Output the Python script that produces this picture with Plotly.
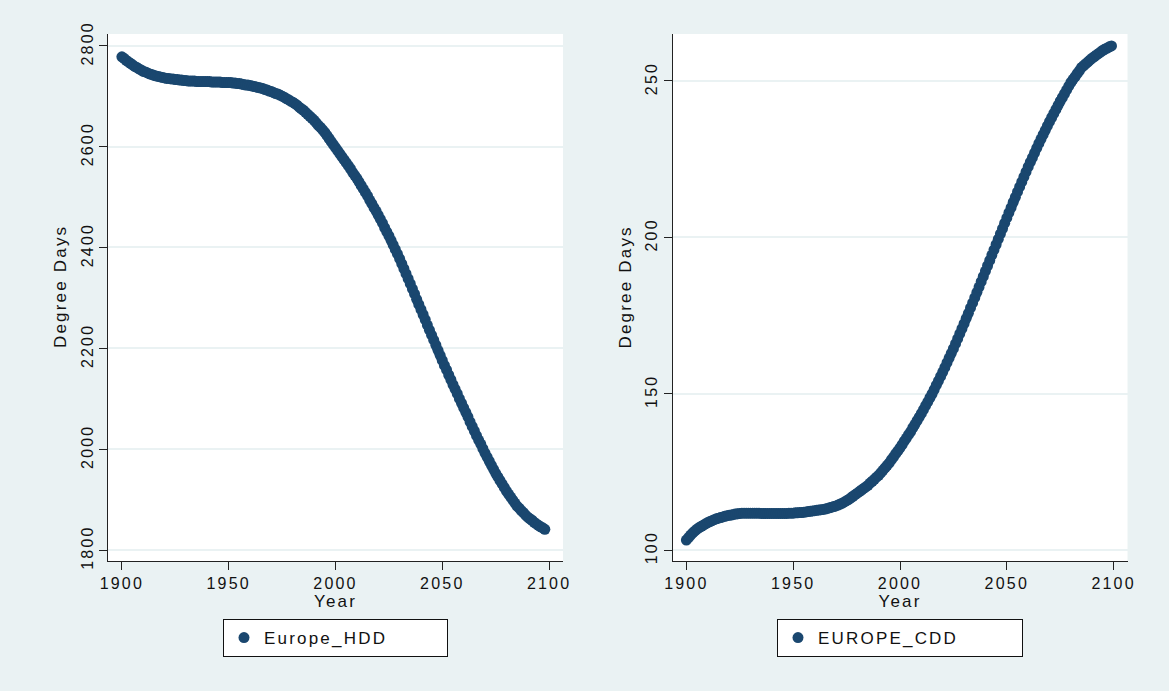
import plotly.graph_objects as go

# ---------------- data ----------------
HDD_YEARS = list(range(1900, 2099))
EUROPE_HDD = [
    2778, 2775, 2771, 2768, 2765, 2762, 2759, 2757, 2754, 2752,
    2749, 2748, 2746, 2744, 2743, 2741, 2740, 2739, 2738, 2737,
    2736, 2735, 2735, 2734, 2734, 2733, 2733, 2732, 2732, 2731,
    2731, 2730, 2730, 2730, 2730, 2729, 2729, 2729, 2729, 2729,
    2729, 2729, 2728, 2728, 2728, 2728, 2728, 2727, 2727, 2727,
    2727, 2727, 2726, 2726, 2725, 2725, 2724, 2723, 2722, 2722,
    2721, 2720, 2719, 2718, 2717, 2716, 2715, 2713, 2712, 2710,
    2709, 2707, 2705, 2704, 2702, 2700, 2698, 2695, 2693, 2690,
    2688, 2685, 2682, 2678, 2675, 2672, 2668, 2664, 2660, 2656,
    2652, 2647, 2642, 2638, 2633, 2628, 2622, 2616, 2610, 2604,
    2598, 2592, 2586, 2580, 2574, 2568, 2562, 2556, 2549, 2543,
    2537, 2530, 2523, 2516, 2509, 2502, 2494, 2487, 2479, 2472,
    2464, 2456, 2448, 2439, 2431, 2423, 2414, 2405, 2396, 2387,
    2378, 2368, 2358, 2348, 2338, 2328, 2318, 2308, 2297, 2287,
    2277, 2267, 2257, 2246, 2236, 2226, 2216, 2206, 2196, 2186,
    2176, 2166, 2157, 2147, 2138, 2128, 2119, 2110, 2100, 2091,
    2082, 2073, 2064, 2054, 2045, 2036, 2027, 2018, 2010, 2001,
    1992, 1984, 1976, 1968, 1960, 1952, 1945, 1938, 1931, 1924,
    1917, 1911, 1905, 1899, 1893, 1887, 1883, 1878, 1874, 1869,
    1865, 1862, 1859, 1855, 1852, 1849, 1846, 1844, 1841,
]

CDD_YEARS = list(range(1900, 2100))
EUROPE_CDD = [
    103.2, 104.0, 104.8, 105.5, 106.1, 106.7, 107.2, 107.6, 108.0, 108.4,
    108.8, 109.1, 109.4, 109.7, 110.0, 110.2, 110.4, 110.6, 110.8, 111.0,
    111.1, 111.2, 111.4, 111.5, 111.6, 111.7, 111.8, 111.8, 111.8, 111.8,
    111.8, 111.8, 111.8, 111.8, 111.8, 111.7, 111.7, 111.7, 111.7, 111.7,
    111.7, 111.7, 111.7, 111.7, 111.7, 111.7, 111.7, 111.7, 111.8, 111.8,
    111.8, 111.9, 111.9, 112.0, 112.0, 112.1, 112.2, 112.3, 112.4, 112.5,
    112.6, 112.7, 112.8, 112.9, 113.0, 113.1, 113.3, 113.5, 113.7, 113.9,
    114.1, 114.4, 114.7, 115.0, 115.4, 115.8, 116.2, 116.7, 117.2, 117.7,
    118.2, 118.7, 119.2, 119.7, 120.2, 120.7, 121.4, 122.0, 122.6, 123.3,
    123.9, 124.7, 125.5, 126.3, 127.1, 127.9, 128.9, 129.8, 130.8, 131.7,
    132.7, 133.7, 134.8, 135.8, 136.9, 137.9, 139.1, 140.2, 141.4, 142.5,
    143.7, 144.9, 146.2, 147.4, 148.7, 149.9, 151.3, 152.7, 154.1, 155.5,
    156.9, 158.4, 159.9, 161.4, 162.9, 164.4, 166.0, 167.6, 169.2, 170.8,
    172.4, 174.1, 175.7, 177.4, 179.0, 180.7, 182.4, 184.1, 185.8, 187.5,
    189.2, 190.9, 192.6, 194.3, 196.0, 197.7, 199.4, 201.1, 202.8, 204.5,
    206.2, 207.9, 209.5, 211.2, 212.8, 214.5, 216.1, 217.7, 219.3, 220.9,
    222.5, 224.0, 225.5, 227.0, 228.5, 230.0, 231.4, 232.8, 234.2, 235.6,
    237.0, 238.3, 239.6, 240.9, 242.2, 243.5, 244.7, 245.9, 247.1, 248.3,
    249.5, 250.5, 251.4, 252.4, 253.3, 254.3, 254.9, 255.5, 256.1, 256.7,
    257.3, 257.8, 258.3, 258.8, 259.3, 259.8, 260.2, 260.5, 260.9, 261.2,
]

X_TICKS = [1900, 1950, 2000, 2050, 2100]
HDD_TICKS = [1800, 2000, 2200, 2400, 2600, 2800]
CDD_TICKS = [100, 150, 200, 250]
X_TITLE = "Year"
Y_TITLE = "Degree Days"
HDD_NAME = "Europe_HDD"
CDD_NAME = "EUROPE_CDD"

# ---------------- style ----------------
W, H = 1169, 691
BG = "#EAF2F3"
NAVY = "#1A476F"
FONT = "Liberation Sans"
FS = 16
TXT = "#111111"

def px_x(p):
    return p / W

def px_y(p):
    return (H - p) / H

fig = go.Figure()
fig.add_trace(go.Scatter(
    x=HDD_YEARS, y=EUROPE_HDD, mode="markers", name=HDD_NAME,
    marker=dict(color=NAVY, size=11, line=dict(width=0)),
    xaxis="x", yaxis="y", legend="legend",
))
fig.add_trace(go.Scatter(
    x=CDD_YEARS, y=EUROPE_CDD, mode="markers", name=CDD_NAME,
    marker=dict(color=NAVY, size=11, line=dict(width=0)),
    xaxis="x2", yaxis="y2", legend="legend2",
))

ydom = [px_y(561), px_y(34)]
common_x = dict(
    range=[1893.5, 2106.5], tickvals=X_TICKS, showgrid=False, zeroline=False,
    showline=True, linecolor="#222222", linewidth=1, automargin=False,
    ticks="outside", ticklen=8, tickcolor="#222222",
    tickfont=dict(family=FONT, size=FS, color=TXT),
    title=dict(text=X_TITLE, font=dict(family=FONT, size=17, color=TXT), standoff=0),
)
common_y = dict(
    showgrid=True, gridcolor=BG, gridwidth=2, zeroline=False,
    showline=True, linecolor="#222222", linewidth=1, automargin=False,
    ticks="outside", ticklen=8, tickcolor="#222222", tickangle=-90,
    tickfont=dict(family=FONT, size=FS, color=TXT),
)

legend_common = dict(
    orientation="h", xanchor="center", yanchor="top",
    bgcolor="white", bordercolor=TXT, borderwidth=1,
    font=dict(family=FONT, size=17, color=TXT),
    entrywidthmode="pixels", itemsizing="trace",
)

fig.update_layout(
    width=W, height=H,
    margin=dict(l=0, r=0, t=0, b=0, pad=0, autoexpand=False),
    paper_bgcolor=BG, plot_bgcolor="white",
    showlegend=True,
    xaxis=dict(domain=[px_x(108), px_x(563)], anchor="y", **common_x),
    yaxis=dict(domain=ydom, anchor="x", range=[1778.2, 2823.2], tickvals=HDD_TICKS, **common_y),
    xaxis2=dict(domain=[px_x(672.5), px_x(1127.5)], anchor="y2", **common_x),
    yaxis2=dict(domain=ydom, anchor="x2", range=[96.5, 265.0], tickvals=CDD_TICKS, **common_y),
    legend=dict(x=px_x(335.5), y=px_y(619), entrywidth=178, **legend_common),
    legend2=dict(x=px_x(900), y=px_y(619), entrywidth=199, **legend_common),
)

# y-axis titles (placed slightly above panel centre, as in the reference)
for xp in (60, 624.5):
    fig.add_annotation(
        text=Y_TITLE, xref="paper", yref="paper", x=px_x(xp), y=px_y(287),
        xanchor="center", yanchor="middle", textangle=-90, showarrow=False,
        font=dict(family=FONT, size=17, color=TXT),
    )

POST = """
document.body.style.margin = '0';
document.body.style.background = '%s';
var gd = document.getElementById('{plot_id}');
gd.querySelectorAll('text').forEach(function(t){ t.style.letterSpacing = '2.2px'; });
""" % BG

fig.write_html("out.html", post_script=POST, config={"displayModeBar": False})
